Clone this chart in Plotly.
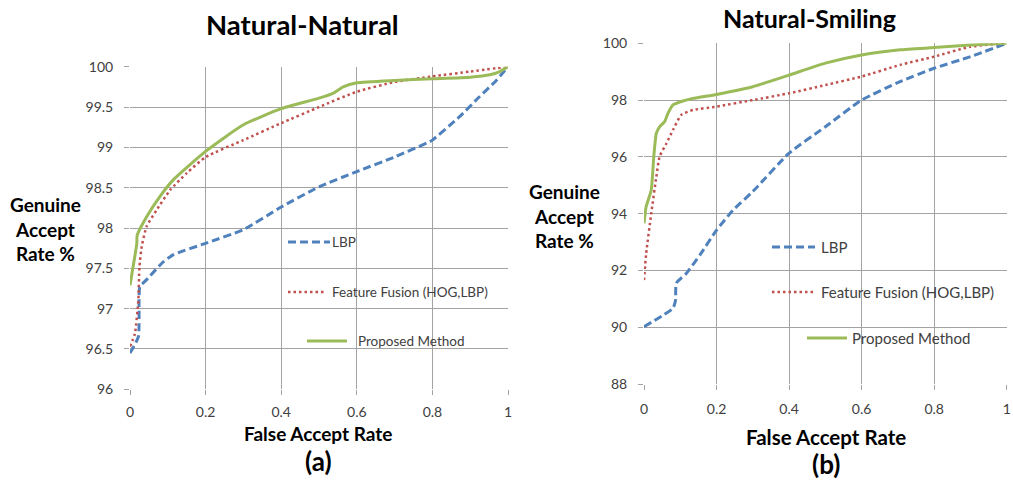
import plotly.graph_objects as go

# ---- Data: (a) Natural-Natural ----
a_lbp_x = [0, 0.022, 0.024, 0.026, 0.044, 0.088, 0.115, 0.2, 0.3, 0.4, 0.5, 0.6, 0.7, 0.793, 0.8, 0.872, 0.925, 0.969, 1.0]
a_lbp_y = [96.45, 96.65, 97.1, 97.27, 97.36, 97.58, 97.67, 97.81, 97.98, 98.26, 98.51, 98.70, 98.88, 99.07, 99.09, 99.38, 99.63, 99.83, 100.0]
a_fus_x = [0, 0.013, 0.022, 0.025, 0.031, 0.044, 0.07, 0.106, 0.15, 0.2, 0.3, 0.4, 0.5, 0.6, 0.7, 0.8, 0.9, 1.0]
a_fus_y = [96.53, 96.69, 97.1, 97.52, 97.77, 98.02, 98.22, 98.47, 98.68, 98.88, 99.09, 99.30, 99.50, 99.69, 99.81, 99.88, 99.94, 100.0]
a_pro_x = [0, 0.018, 0.019, 0.044, 0.079, 0.115, 0.2, 0.3, 0.4, 0.5, 0.537, 0.564, 0.6, 0.7, 0.8, 0.9, 0.952, 0.978, 1.0]
a_pro_y = [97.29, 97.81, 97.91, 98.14, 98.39, 98.60, 98.95, 99.28, 99.48, 99.61, 99.67, 99.75, 99.80, 99.83, 99.85, 99.87, 99.90, 99.94, 100.0]

# ---- Data: (b) Natural-Smiling ----
b_lbp_x = [0, 0.08, 0.087, 0.089, 0.117, 0.154, 0.2, 0.246, 0.3, 0.4, 0.5, 0.6, 0.706, 0.8, 0.9, 1.0]
b_lbp_y = [90.02, 90.67, 90.96, 91.55, 91.9, 92.54, 93.42, 94.13, 94.78, 96.13, 97.06, 98.0, 98.65, 99.12, 99.53, 100.0]
b_fus_x = [0, 0.006, 0.02, 0.034, 0.043, 0.062, 0.08, 0.103, 0.135, 0.2, 0.3, 0.4, 0.5, 0.6, 0.706, 0.8, 0.9, 1.0]
b_fus_y = [91.66, 92.6, 94.01, 95.3, 96.01, 96.48, 96.95, 97.48, 97.65, 97.77, 98.0, 98.24, 98.53, 98.83, 99.24, 99.53, 99.88, 100.0]
b_pro_x = [0, 0.006, 0.02, 0.027, 0.034, 0.043, 0.057, 0.066, 0.08, 0.103, 0.135, 0.2, 0.3, 0.4, 0.5, 0.6, 0.706, 0.8, 0.9, 1.0]
b_pro_y = [93.66, 94.25, 94.83, 96.01, 96.83, 97.06, 97.24, 97.53, 97.83, 97.95, 98.06, 98.2, 98.47, 98.88, 99.3, 99.59, 99.77, 99.85, 99.94, 100.0]

x_ticks = [0, 0.2, 0.4, 0.6, 0.8, 1]
x_tick_text = ["0", "0.2", "0.4", "0.6", "0.8", "1"]
a_y_ticks = [96, 96.5, 97, 97.5, 98, 98.5, 99, 99.5, 100]
a_y_text = ["96", "96.5", "97", "97.5", "98", "98.5", "99", "99.5", "100"]
b_y_ticks = [88, 90, 92, 94, 96, 98, 100]
b_y_text = ["88", "90", "92", "94", "96", "98", "100"]

series_names = ["LBP", "Feature Fusion (HOG,LBP)", "Proposed Method"]

BLUE = "#4F81BD"
RED = "#C0504D"
GREEN = "#9BBB59"
DASH = "8px,4px"
DOT = "2.5px,3px"
W, H = 1013, 481
FONT = "Lato"

fig = go.Figure()

def add(x, y, color, dash, width, xa, ya):
    fig.add_trace(go.Scatter(x=x, y=y, mode="lines", xaxis=xa, yaxis=ya,
                             line=dict(color=color, dash=dash, width=width, shape="spline", smoothing=0.5),
                             showlegend=False, hoverinfo="skip"))

add(a_lbp_x, a_lbp_y, BLUE, DASH, 3, "x", "y")
add(a_fus_x, a_fus_y, RED, DOT, 2.5, "x", "y")
add(a_pro_x, a_pro_y, GREEN, "solid", 3, "x", "y")
add(b_lbp_x, b_lbp_y, BLUE, DASH, 3, "x2", "y2")
add(b_fus_x, b_fus_y, RED, DOT, 2.5, "x2", "y2")
add(b_pro_x, b_pro_y, GREEN, "solid", 3, "x2", "y2")

def px(x):
    return x / W

def py(y):
    return 1 - y / H

grid = "#A3A3A3"
tickfont = dict(family=FONT, size=14, color="#404040")
axis_common = dict(showgrid=True, gridcolor=grid, gridwidth=1.2, zeroline=False,
                   showline=False, ticks="outside", ticklen=5, tickcolor=grid,
                   tickfont=tickfont, fixedrange=True, ticklabeloverflow="allow",
                   automargin=False)

fig.update_layout(
    template="none",
    width=W, height=H,
    margin=dict(l=0, r=0, t=0, b=0, autoexpand=False),
    paper_bgcolor="white", plot_bgcolor="white",
    xaxis=dict(domain=[px(130), px(508)], range=[0, 1], tickvals=x_ticks, ticktext=x_tick_text,
               anchor="y", ticklabelstandoff=5, **axis_common),
    yaxis=dict(domain=[py(389.3), py(66.7)], range=[96, 100], tickvals=a_y_ticks, ticktext=a_y_text,
               anchor="x", ticklabelstandoff=8, **axis_common),
    xaxis2=dict(domain=[px(644), px(1006.7)], range=[0, 1], tickvals=x_ticks, ticktext=x_tick_text,
                anchor="y2", ticklabelstandoff=7, **axis_common),
    yaxis2=dict(domain=[py(384), py(43.3)], range=[88, 100], tickvals=b_y_ticks, ticktext=b_y_text,
                anchor="x2", ticklabelstandoff=8, **axis_common),
    showlegend=False,
)

ann = []
def text(x, y, s, size, bold=False, color="black", xanchor="center"):
    if bold:
        s = "<b>" + s + "</b>"
    ann.append(dict(x=px(x), y=py(y), xref="paper", yref="paper", text=s, showarrow=False,
                    xanchor=xanchor, yanchor="middle", font=dict(family=FONT, size=size, color=color)))

# titles
text(302, 25, "Natural-Natural", 27.5, bold=True)
text(809, 18, "Natural-Smiling", 25, bold=True)
# y titles
text(45, 229, "Genuine<br>Accept<br>Rate %", 19, bold=True)
text(564, 216, "Genuine<br>Accept<br>Rate %", 19, bold=True)
# x titles
text(318, 433, "False Accept Rate", 19, bold=True)
text(318, 461, "(a)", 26, bold=True)
text(826, 437, "False Accept Rate", 20.5, bold=True)
text(826, 464, "(b)", 26, bold=True)

shapes = []
def leg(x0, x1, y, color, dash, width, label, tx, size=13.5):
    shapes.append(dict(type="line", xref="paper", yref="paper", x0=px(x0), x1=px(x1), y0=py(y), y1=py(y),
                       line=dict(color=color, dash=dash, width=width)))
    text(tx, y, label, size, color="#404040", xanchor="left")

leg(288, 330, 242, BLUE, DASH, 3, series_names[0], 330)
leg(288, 326, 292, RED, DOT, 2.5, series_names[1], 330)
leg(307, 347, 341, GREEN, "solid", 3, series_names[2], 356)
leg(772, 815, 247, BLUE, DASH, 3, series_names[0], 819, 15)
leg(772, 815, 292, RED, DOT, 2.5, series_names[1], 819, 15)
leg(807, 847, 338, GREEN, "solid", 3, series_names[2], 850, 15)

fig.update_layout(annotations=ann, shapes=shapes)
fig.write_html("out.html", config={"displayModeBar": False},
               post_script="document.body.style.margin='0';document.body.style.padding='0';document.body.style.overflow='hidden';")
